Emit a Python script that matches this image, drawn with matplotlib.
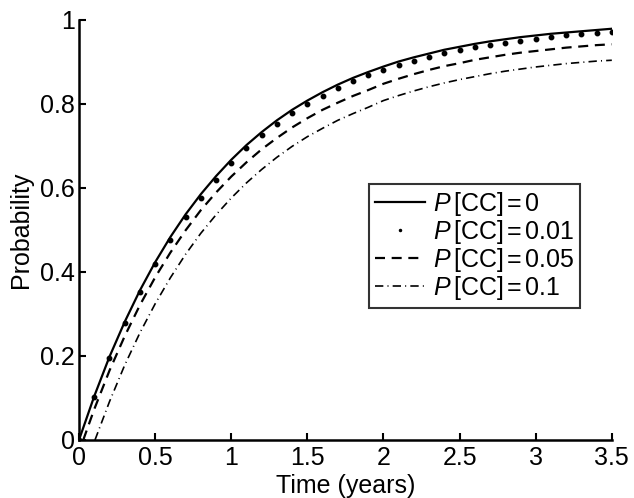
import matplotlib
matplotlib.use("Agg")
import matplotlib.pyplot as plt

plt.rcParams['font.family'] = ['Liberation Sans', 'DejaVu Sans']
plt.rcParams['mathtext.fontset'] = 'custom'
plt.rcParams['mathtext.rm'] = 'Liberation Sans'
plt.rcParams['mathtext.it'] = 'Liberation Sans:italic'

# time grid (years), 0.1 spacing
t = [round(0.1 * i, 1) for i in range(36)]

# P[CC] = 0 (solid)
p0 = [0.000, 0.104, 0.198, 0.281, 0.356, 0.423, 0.483, 0.537, 0.585, 0.628,
      0.667, 0.702, 0.733, 0.761, 0.786, 0.808, 0.828, 0.846, 0.862, 0.876,
      0.889, 0.901, 0.911, 0.920, 0.929, 0.936, 0.943, 0.949, 0.954, 0.959,
      0.963, 0.967, 0.970, 0.973, 0.976, 0.979]

# P[CC] = 0.01 (dots)
p01 = [0.000, 0.103, 0.196, 0.279, 0.352, 0.418, 0.477, 0.530, 0.577, 0.620,
       0.659, 0.694, 0.725, 0.753, 0.778, 0.800, 0.820, 0.838, 0.854, 0.868,
       0.881, 0.893, 0.903, 0.912, 0.921, 0.928, 0.935, 0.941, 0.946, 0.951,
       0.955, 0.959, 0.963, 0.966, 0.969, 0.972]

# P[CC] = 0.05 (dashed), starts a little after 0
t05 = [0.028] + t[1:]
p05 = [0.000, 0.073, 0.165, 0.247, 0.321, 0.387, 0.446, 0.499, 0.547, 0.589,
       0.627, 0.661, 0.692, 0.719, 0.744, 0.766, 0.786, 0.803, 0.819, 0.833,
       0.848, 0.860, 0.871, 0.881, 0.890, 0.897, 0.905, 0.911, 0.917, 0.922,
       0.926, 0.930, 0.934, 0.937, 0.940, 0.942]

# P[CC] = 0.1 (dash-dot), starts later
t1 = [0.105] + t[2:]
p1 = [0.000, 0.091, 0.178, 0.255, 0.324, 0.386, 0.442, 0.492, 0.536,
      0.576, 0.612, 0.644, 0.673, 0.699, 0.722, 0.742, 0.761, 0.777, 0.792,
      0.808, 0.820, 0.831, 0.841, 0.850, 0.858, 0.865, 0.872, 0.878, 0.883,
      0.888, 0.892, 0.896, 0.899, 0.902, 0.904]

fs = 18

fig = plt.figure(figsize=(6.34, 4.98), dpi=100)
ax = fig.add_axes([0.1246, 0.1165, 0.8404, 0.8435])

ax.plot(t, p0, color='k', lw=1.6, ls='-', label=r'$P\,$[CC]$\,$=$\,$0')
ax.plot(t, p01, color='k', ls='none', marker='o', ms=3.2, label=r'$P\,$[CC]$\,$=$\,$0.01')
ax.plot(t05, p05, color='k', lw=1.6, ls=(0, (4.5, 3)), label=r'$P\,$[CC]$\,$=$\,$0.05')
ax.plot(t1, p1, color='k', lw=1.2, ls=(0, (5, 2.5, 0.6, 2.5)), label=r'$P\,$[CC]$\,$=$\,$0.1')

ax.set_xlim(0, 3.5)
ax.set_ylim(0, 1)
ax.set_xticks([0, 0.5, 1, 1.5, 2, 2.5, 3, 3.5])
ax.set_xticklabels(['0', '0.5', '1', '1.5', '2', '2.5', '3', '3.5'])
ax.set_yticks([0, 0.2, 0.4, 0.6, 0.8, 1])
ax.set_yticklabels(['0', '0.2', '0.4', '0.6', '0.8', '1'])
ax.tick_params(direction='in', length=5, width=1.5, labelsize=fs)
ax.tick_params(axis='x', pad=4)
ax.tick_params(axis='y', pad=3)
for s in ['top', 'right']:
    ax.spines[s].set_visible(False)
for s in ['left', 'bottom']:
    ax.spines[s].set_linewidth(1.8)

ax.set_xlabel('Time (years)', fontsize=fs, labelpad=3)
ax.set_ylabel('Probability', fontsize=fs, labelpad=5)

leg = ax.legend(loc='upper left', bbox_to_anchor=(0.544, 0.610), fontsize=fs,
                frameon=True, fancybox=False, edgecolor='k', handlelength=2.0,
                handletextpad=0.3, borderpad=0.25, labelspacing=0.0,
                borderaxespad=0)
leg.get_frame().set_linewidth(1.5)
leg.legend_handles[1].set_markersize(1.5)

fig.savefig('out.png', dpi=100)
